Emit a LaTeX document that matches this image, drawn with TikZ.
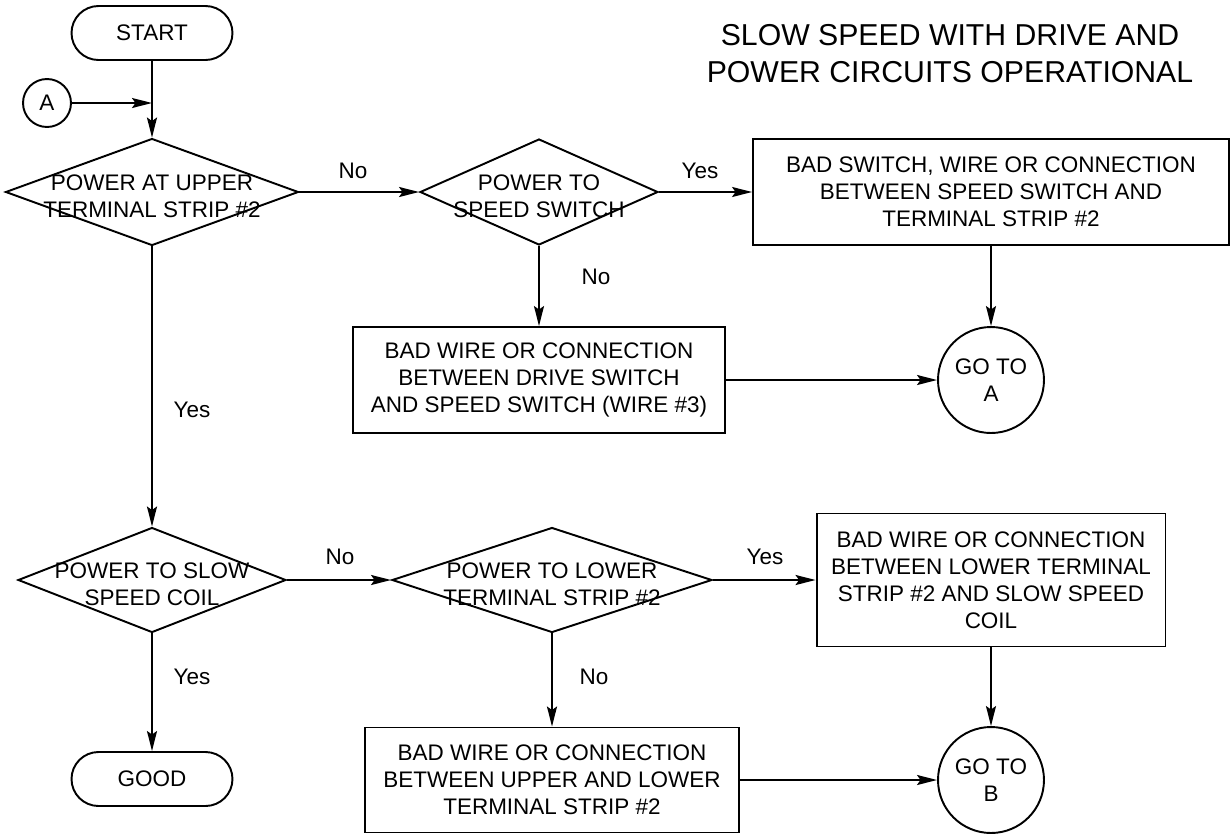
\documentclass[tikz,border=0pt]{standalone}
\usepackage{fontspec}
\setmainfont{Liberation Sans}
\usetikzlibrary{arrows.meta,shapes.geometric,positioning}

\tikzset{
  flow/.style={draw,line width=1.1pt,-{Stealth[length=4mm,width=2mm,inset=0.7mm]}},
  termbox/.style={draw,line width=1.1pt,rounded corners=0.54cm,minimum width=3.22cm,minimum height=1.08cm,inner sep=0pt},
  query/.style={diamond,draw,line width=1.1pt,inner sep=0pt},
  faultbox/.style={draw,line width=1.1pt,align=center,inner sep=0pt},
  goto/.style={circle,draw,line width=1.1pt,align=center,inner sep=0pt,minimum size=2.12cm},
  qtext/.style={align=center}
}

\begin{document}
\begin{tikzpicture}[x=0.02cm,y=-0.02cm, every node/.style={font=\fontsize{12.8}{15.4}\selectfont}]
  \useasboundingbox (0,0) rectangle (1232,833);
  \node[align=center,font=\fontsize{17.2}{21}\selectfont] (title) at (950,54)
    {SLOW SPEED WITH DRIVE AND\\POWER CIRCUITS OPERATIONAL};

  % upper half
  \node[termbox] (start) at (152,33) {START};
  \node[circle,draw,line width=1.1pt,minimum size=0.96cm,inner sep=0pt] (conA) at (47,103) {A};
  \coordinate (join) at (152,103);
  \node[query,minimum width=5.86cm,minimum height=2.14cm] (q1) at (152,192) {};
  \node[qtext] (q1t) at (152,196) {POWER AT UPPER\\TERMINAL STRIP \#2};
  \node[query,minimum width=4.76cm,minimum height=2.12cm] (q2) at (539,192) {};
  \node[qtext] (q2t) at (539,196) {POWER TO\\SPEED SWITCH};
  \node[faultbox,minimum width=9.52cm,minimum height=2.12cm] (b1) at (991,192)
    {BAD SWITCH, WIRE OR CONNECTION\\BETWEEN SPEED SWITCH AND\\TERMINAL STRIP \#2};
  \node[faultbox,minimum width=7.44cm,minimum height=2.12cm] (b2) at (539,380)
    {BAD WIRE OR CONNECTION\\BETWEEN DRIVE SWITCH\\AND SPEED SWITCH (WIRE \#3)};
  \node[goto] (gA) at (991,380) {GO TO\\A};

  % lower half
  \node[query,minimum width=5.36cm,minimum height=2.10cm] (q3) at (152,580) {};
  \node[qtext] (q3t) at (152,584) {POWER TO SLOW\\SPEED COIL};
  \node[query,minimum width=6.40cm,minimum height=2.10cm] (q4) at (552,580) {};
  \node[qtext] (q4t) at (552,584) {POWER TO LOWER\\TERMINAL STRIP \#2};
  \node[faultbox,minimum width=6.98cm,minimum height=2.66cm] (b3) at (991,580)
    {BAD WIRE OR CONNECTION\\BETWEEN LOWER TERMINAL\\STRIP \#2 AND SLOW SPEED\\COIL};
  \node[faultbox,minimum width=7.48cm,minimum height=2.10cm] (b4) at (552,780)
    {BAD WIRE OR CONNECTION\\BETWEEN UPPER AND LOWER\\TERMINAL STRIP \#2};
  \node[goto] (gB) at (991,780) {GO TO\\B};
  \node[termbox] (good) at (152,779) {GOOD};

  % connectors
  \draw[flow] (start) -- (q1);
  \draw[flow] (conA) -- (join);
  \draw[flow] (q1) -- (q2);
  \draw[flow] (q2) -- (b1);
  \draw[flow] (q2) -- (b2);
  \draw[flow] (b1) -- (gA);
  \draw[flow] (b2) -- (gA);
  \draw[flow] (q1) -- (q3);
  \draw[flow] (q3) -- (q4);
  \draw[flow] (q4) -- (b3);
  \draw[flow] (q4) -- (b4);
  \draw[flow] (b3) -- (gB);
  \draw[flow] (b4) -- (gB);
  \draw[flow] (q3) -- (good);

  % answers
  \node (no1) at (353,171) {No};
  \node (yes1) at (700,171) {Yes};
  \node (no2) at (596,277) {No};
  \node (yes2) at (192,410) {Yes};
  \node (no3) at (340,557) {No};
  \node (yes3) at (765,557) {Yes};
  \node (no4) at (594,677) {No};
  \node (yes4) at (192,677) {Yes};
\end{tikzpicture}
\end{document}
